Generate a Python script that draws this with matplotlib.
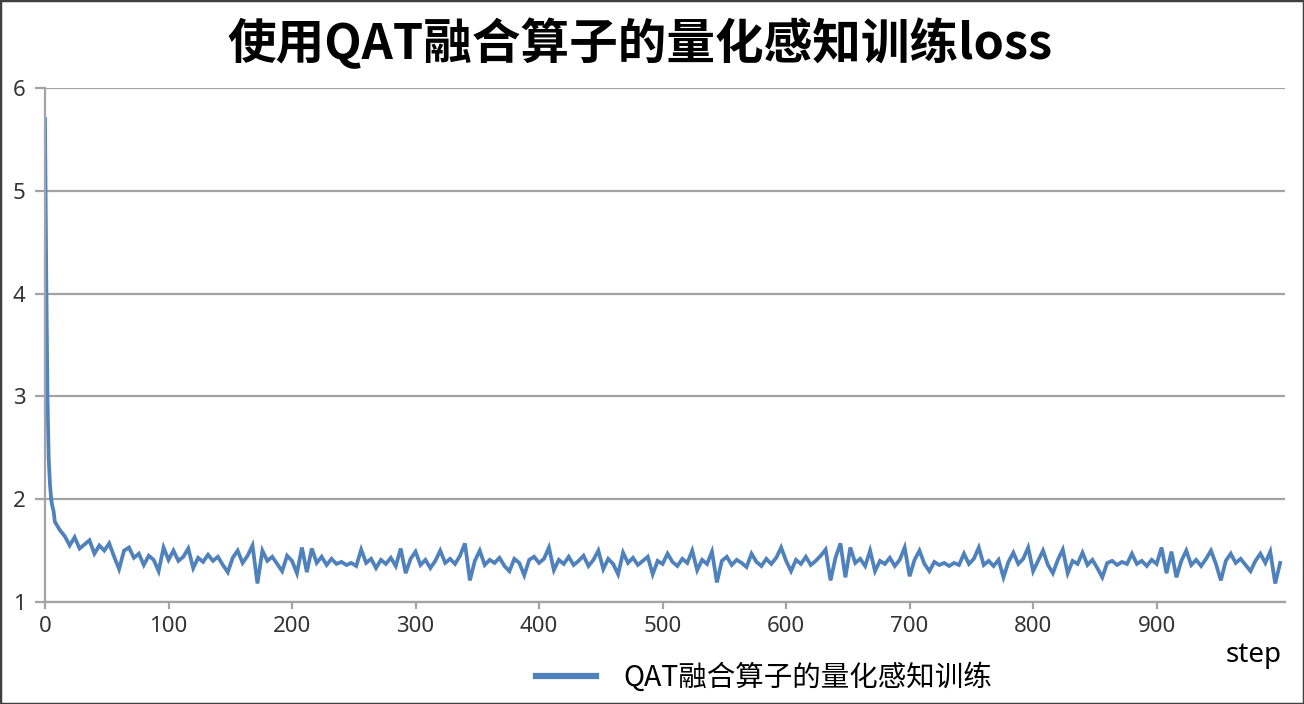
import matplotlib
matplotlib.use('Agg')
import matplotlib.pyplot as plt
from matplotlib.lines import Line2D
from matplotlib.patches import Rectangle

plt.rcParams['font.family'] = ['Noto Sans CJK SC', 'DejaVu Sans']

# step index: first few steps one by one, then every 4th step
steps = list(range(0, 8)) + list(range(8, 1001, 4))

# values
loss_start = [5.70, 4.20, 3.00, 2.40, 2.15, 2.00, 1.93, 1.88]
loss_0 = [1.78, 1.70, 1.64, 1.55, 1.63, 1.52, 1.56, 1.60, 1.47, 1.55, 1.50, 1.57,
          1.44, 1.32, 1.50, 1.53, 1.43, 1.47, 1.36, 1.45, 1.41, 1.30, 1.53]
loss_100 = [1.41, 1.50, 1.40, 1.44, 1.52, 1.33, 1.43, 1.39, 1.46, 1.40, 1.44, 1.36, 1.29,
            1.43, 1.50, 1.38, 1.45, 1.55, 1.18, 1.50, 1.40, 1.44, 1.37, 1.30, 1.45]
loss_200 = [1.40, 1.28, 1.53, 1.29, 1.52, 1.38, 1.44, 1.36, 1.42, 1.37, 1.39, 1.36, 1.38,
            1.35, 1.51, 1.38, 1.42, 1.33, 1.41, 1.37, 1.43, 1.35, 1.52, 1.28, 1.42]
loss_300 = [1.49, 1.36, 1.41, 1.33, 1.40, 1.50, 1.38, 1.42, 1.37, 1.45, 1.57, 1.21, 1.40,
            1.50, 1.36, 1.41, 1.38, 1.43, 1.35, 1.30, 1.42, 1.38, 1.26, 1.41, 1.44]
loss_400 = [1.38, 1.42, 1.53, 1.31, 1.41, 1.37, 1.44, 1.36, 1.40, 1.45, 1.35, 1.41, 1.50,
            1.32, 1.42, 1.37, 1.27, 1.48, 1.38, 1.43, 1.36, 1.40, 1.44, 1.27, 1.40]
loss_500 = [1.37, 1.47, 1.39, 1.35, 1.42, 1.38, 1.50, 1.31, 1.41, 1.37, 1.49, 1.19, 1.40,
            1.44, 1.36, 1.41, 1.38, 1.34, 1.47, 1.39, 1.35, 1.42, 1.37, 1.43, 1.53]
loss_600 = [1.40, 1.30, 1.41, 1.37, 1.44, 1.36, 1.40, 1.45, 1.51, 1.21, 1.43, 1.57, 1.24,
            1.53, 1.38, 1.42, 1.35, 1.50, 1.30, 1.40, 1.37, 1.43, 1.35, 1.41, 1.53]
loss_700 = [1.25, 1.41, 1.50, 1.37, 1.30, 1.39, 1.36, 1.38, 1.35, 1.38, 1.36, 1.47, 1.37,
            1.42, 1.53, 1.36, 1.40, 1.35, 1.41, 1.24, 1.39, 1.48, 1.37, 1.42, 1.53]
loss_800 = [1.30, 1.40, 1.50, 1.36, 1.28, 1.41, 1.51, 1.28, 1.40, 1.37, 1.48, 1.36, 1.41,
            1.33, 1.24, 1.38, 1.40, 1.36, 1.39, 1.37, 1.47, 1.37, 1.40, 1.35, 1.41]
loss_900 = [1.37, 1.53, 1.28, 1.49, 1.24, 1.40, 1.50, 1.36, 1.41, 1.35, 1.42, 1.50, 1.37,
            1.21, 1.40, 1.47, 1.38, 1.42, 1.36, 1.30, 1.40, 1.47, 1.38, 1.49, 1.18, 1.38]

loss = (loss_start + loss_0 + loss_100 + loss_200 + loss_300 + loss_400
        + loss_500 + loss_600 + loss_700 + loss_800 + loss_900)

y_ticks = [1, 2, 3, 4, 5, 6]
x_ticks = [0, 100, 200, 300, 400, 500, 600, 700, 800, 900]

title = '使用QAT融合算子的量化感知训练loss'
series_name = 'QAT融合算子的量化感知训练'

line_color = '#4F81BD'
grid_color = '#a3a3a3'

fig = plt.figure(figsize=(13.04, 7.04), dpi=100)
ax = fig.add_axes([0.0345, 0.1449, 0.951, 0.730])

ax.plot(steps, loss, color=line_color, lw=2.7, solid_joinstyle='miter')

ax.set_xlim(0, 1004)
ax.set_ylim(1, 6)
ax.set_yticks(y_ticks)
ax.set_xticks(x_ticks)
ax.yaxis.grid(True, color=grid_color, lw=1.6)
ax.set_axisbelow(True)

for s in ['top', 'right']:
    ax.spines[s].set_visible(False)
for s in ['left', 'bottom']:
    ax.spines[s].set_color(grid_color)
    ax.spines[s].set_linewidth(1.6)

ax.tick_params(axis='y', length=7, width=1.6, color=grid_color, pad=7,
               labelsize=16, labelcolor='#333333')
ax.tick_params(axis='x', length=5, width=1.6, color=grid_color, pad=5,
               labelsize=16, labelcolor='#333333')
for lab in ax.get_xticklabels() + ax.get_yticklabels():
    lab.set_family(['Noto Sans', 'DejaVu Sans'])

fig.text(0.491, 0.938, title, ha='center', va='center', fontsize=35,
         fontweight='heavy', color='black')

fig.text(0.961, 0.070, 'step', ha='center', va='center', fontsize=20,
         family=['Noto Sans', 'DejaVu Sans'], color='black')

handle = Line2D([], [], color=line_color, lw=4.5)
fig.legend([handle], [series_name], loc='center', bbox_to_anchor=(0.586, 0.037),
           frameon=False, fontsize=20.5, handlelength=2.1, handletextpad=0.95)

fig.add_artist(Rectangle((0, 0), 1, 1, transform=fig.transFigure, fill=False,
                         edgecolor='#404040', lw=2.5))

fig.savefig('out.png', dpi=100)
